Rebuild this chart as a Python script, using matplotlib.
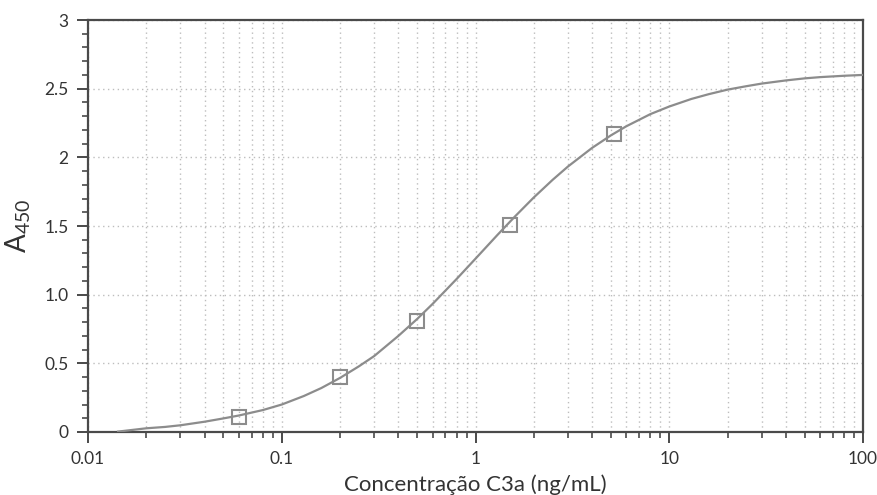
import matplotlib
matplotlib.use("Agg")
import matplotlib.pyplot as plt
from matplotlib.ticker import LogLocator, FixedLocator, MultipleLocator, NullFormatter

plt.rcParams['font.family'] = ['Lato', 'DejaVu Sans']

# Measured standards
conc = [0.06, 0.2, 0.5, 1.5, 5.2]
absorb = [0.11, 0.40, 0.81, 1.51, 2.17]

# Fitted standard curve
curve_x = [0.0143, 0.02, 0.025, 0.03, 0.04, 0.05, 0.06, 0.08, 0.1, 0.13, 0.16, 0.2,
           0.25, 0.3, 0.4, 0.5, 0.6, 0.8, 1.0, 1.3, 1.6, 2.0, 2.5, 3.0, 4.0, 5.0,
           6.0, 8.0, 10, 13, 16, 20, 25, 30, 40, 50, 60, 80, 100]
curve_y = [0.003, 0.027, 0.037, 0.049, 0.075, 0.099, 0.12, 0.16, 0.20, 0.262, 0.32, 0.394,
           0.478, 0.553, 0.70, 0.823, 0.932, 1.115, 1.262, 1.436, 1.57, 1.708, 1.836, 1.933,
           2.069, 2.16, 2.226, 2.315, 2.37, 2.425, 2.46, 2.493, 2.518, 2.537, 2.56, 2.575,
           2.584, 2.594, 2.60]

xticks = [0.01, 0.1, 1, 10, 100]
xticklabels = ['0.01', '0.1', '1', '10', '100']
yticks = [0, 0.5, 1.0, 1.5, 2, 2.5, 3]
yticklabels = ['0', '0.5', '1.0', '1.5', '2', '2.5', '3']

fig = plt.figure(figsize=(8.77, 4.95), dpi=100)
ax = fig.add_axes([88/877, 63/495, (863-88)/877, (432-20)/495])

line_col = '#8c8c8c'
ax.plot(curve_x, curve_y, color=line_col, lw=1.6, zorder=3, solid_joinstyle='round')
ax.plot(conc, absorb, linestyle='none', marker='s', markersize=9.5,
        markerfacecolor='none', markeredgecolor=line_col, markeredgewidth=1.5, zorder=4)

ax.set_xscale('log')
ax.set_xlim(0.01, 100)
ax.set_ylim(0, 3)

ax.xaxis.set_major_locator(FixedLocator(xticks))
ax.set_xticklabels(xticklabels)
ax.xaxis.set_minor_locator(LogLocator(base=10, subs=range(2, 10), numticks=20))
ax.xaxis.set_minor_formatter(NullFormatter())
ax.yaxis.set_major_locator(FixedLocator(yticks))
ax.set_yticklabels(yticklabels)
ax.yaxis.set_minor_locator(MultipleLocator(0.1))

spine_col = '#4a4a4a'
for s in ax.spines.values():
    s.set_color(spine_col)
    s.set_linewidth(1.6)

ax.tick_params(axis='both', which='major', direction='out', length=8, width=1.4,
               color=spine_col, labelsize=12.5, labelcolor='#333333', pad=6)
ax.tick_params(axis='both', which='minor', direction='out', length=4.5, width=1.2,
               color=spine_col)

ax.grid(True, which='both', axis='x', color='#bdbdbd', linestyle=(0, (1, 2.5)), linewidth=1.0)
ax.grid(True, which='major', axis='y', color='#bdbdbd', linestyle=(0, (1, 2.5)), linewidth=1.0)
ax.set_axisbelow(True)

ax.set_xlabel('Concentração C3a (ng/mL)', fontsize=16, color='#333333', labelpad=5)
ax.set_ylabel(r'A$\mathregular{_{450}}$', fontsize=20, color='#333333', labelpad=8)

fig.savefig('out.png', dpi=100)
